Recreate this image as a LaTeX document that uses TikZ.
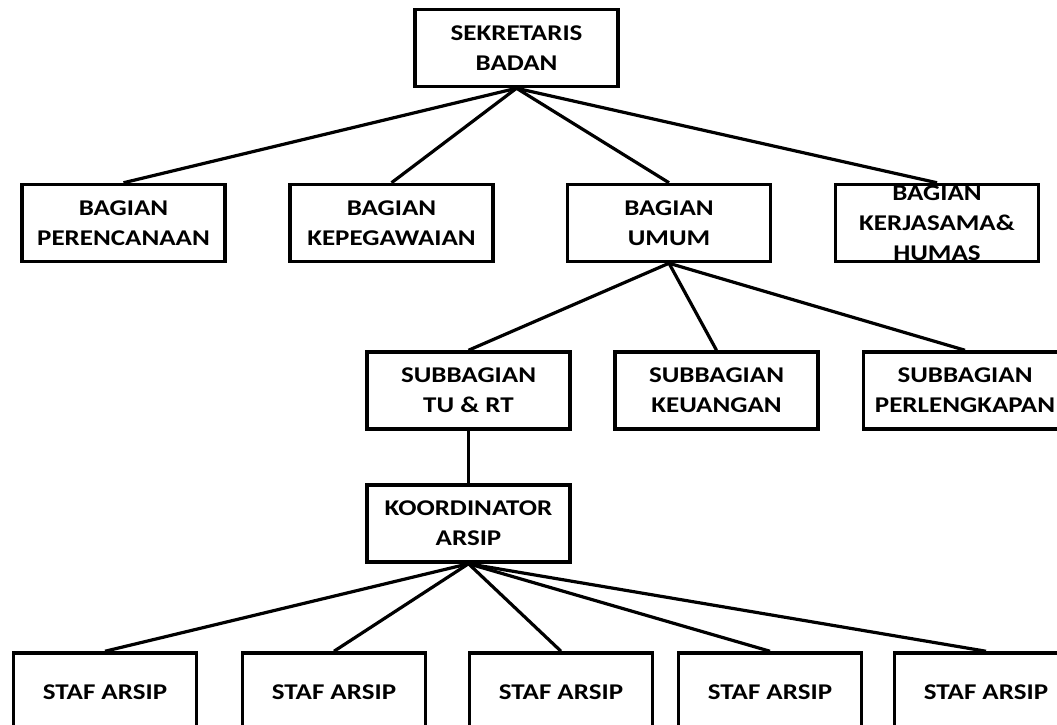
\documentclass[tikz,border=0pt]{standalone}
\usepackage{fontspec}
\setmainfont{Carlito}[FakeStretch=1.2]
\begin{document}
\begin{tikzpicture}[x=1pt,y=-1pt,
  orgbox/.style={draw=black, line width=3.5pt, minimum width=203pt, minimum height=77pt,
    align=center, inner sep=0pt, font=\bfseries\fontsize{22.5}{30}\selectfont},
  stafbox/.style={orgbox, minimum width=183pt, minimum height=78pt},
  link/.style={line width=3.2pt, black}]
\clip (0,0) rectangle (1057,725);
\fill[white] (0,0) rectangle (1057,725);
% level 0
\node[orgbox] (sek) at (516.5,48) {SEKRETARIS\\BADAN};
% level 1
\node[orgbox] (per) at (123.5,223) {BAGIAN\\PERENCANAAN};
\node[orgbox] (kep) at (391.5,223) {BAGIAN\\KEPEGAWAIAN};
\node[orgbox] (umum) at (669,223) {BAGIAN\\UMUM};
\node[orgbox] (ker) at (937,223) {BAGIAN\\KERJASAMA\&\\HUMAS};
% level 2
\node[orgbox] (tu) at (468.5,390.5) {SUBBAGIAN\\TU \& RT};
\node[orgbox] (keu) at (716.5,390.5) {SUBBAGIAN\\KEUANGAN};
\node[orgbox] (perl) at (965,390.5) {SUBBAGIAN\\PERLENGKAPAN};
% level 3
\node[orgbox] (koor) at (468.5,523.5) {KOORDINATOR\\ARSIP};
% level 4
\node[stafbox] (s1) at (105,692) {STAF ARSIP};
\node[stafbox] (s2) at (334,692) {STAF ARSIP};
\node[stafbox] (s3) at (561,692) {STAF ARSIP};
\node[stafbox] (s4) at (770,692) {STAF ARSIP};
\node[stafbox] (s5) at (986,692) {STAF ARSIP};
% connectors
\foreach \c in {per,kep,umum,ker} \draw[link] (sek.south) -- (\c.north);
\foreach \c in {tu,keu,perl} \draw[link] (umum.south) -- (\c.north);
\draw[link] (tu.south) -- (koor.north);
\foreach \c in {s1,s2,s3,s4,s5} \draw[link] (koor.south) -- (\c.north);
\end{tikzpicture}
\end{document}
